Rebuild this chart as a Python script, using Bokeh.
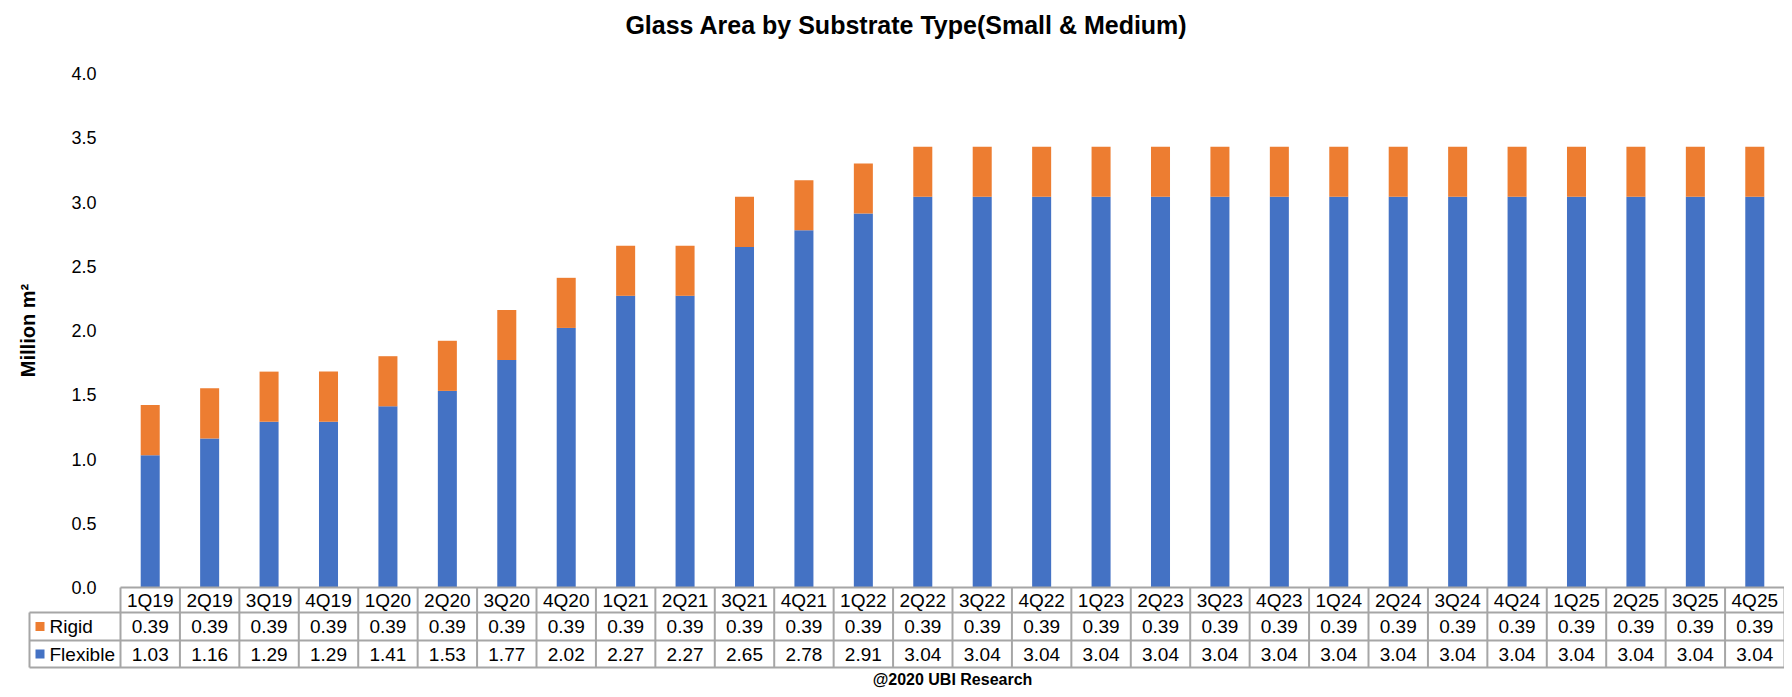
import numpy as np
from bokeh.plotting import figure
from bokeh.models import Range1d, FixedTicker, NumeralTickFormatter, ColumnDataSource
from bokeh.core.properties import value
from bokeh.embed import file_html
from bokeh.resources import INLINE

# ---------------- data ----------------
categories = ["1Q19", "2Q19", "3Q19", "4Q19", "1Q20", "2Q20", "3Q20", "4Q20",
              "1Q21", "2Q21", "3Q21", "4Q21", "1Q22", "2Q22", "3Q22", "4Q22",
              "1Q23", "2Q23", "3Q23", "4Q23", "1Q24", "2Q24", "3Q24", "4Q24",
              "1Q25", "2Q25", "3Q25", "4Q25"]
flexible = [1.03, 1.16, 1.29, 1.29, 1.41, 1.53, 1.77, 2.02,
            2.27, 2.27, 2.65, 2.78, 2.91, 3.04, 3.04, 3.04,
            3.04, 3.04, 3.04, 3.04, 3.04, 3.04, 3.04, 3.04,
            3.04, 3.04, 3.04, 3.04]
rigid = [0.39] * 28
series_names = ["Rigid", "Flexible"]
y_ticks = [0.0, 0.5, 1.0, 1.5, 2.0, 2.5, 3.0, 3.5, 4.0]
title_text = "Glass Area by Substrate Type(Small & Medium)"
y_label = "Million m²"
footer_text = "@2020 UBI Research"

# ---------------- styles ----------------
BLUE = "#4472C4"
ORANGE = "#ED7D31"
GRID = "#a6a6a6"
FONT = "Liberation Sans"
FONT_SIZE = "19px"

W, H = 1784, 689
n = len(categories)
x = np.arange(n) + 0.5

# pixel geometry (style); the frame fills the whole figure
cat_left_px = 120           # where the first category column starts
label_left_px = 29          # left edge of the table's series-name column
cell_px = (W - cat_left_px) / n
x_start = -cat_left_px / cell_px
x_lab = -(cat_left_px - label_left_px) / cell_px
y_px = 128.5                # pixels per unit on the value axis
top_px = 73                 # distance from top to the 4.0 line
y_top = 4.0 + top_px / y_px
y_bot = 4.0 - (H - top_px) / y_px
row_px = [25, 28, 27]       # table row heights


def px_x(px):
    return x_start + px / cell_px


def px_y(px):
    return y_top - px / y_px


p = figure(width=W, height=H, output_backend="svg", toolbar_location=None,
           x_range=Range1d(x_start, n), y_range=Range1d(y_bot, y_top),
           min_border=0)
p.xaxis.visible = False
p.xgrid.visible = False
p.ygrid.visible = False
p.outline_line_color = None

# value axis (labels placed to the left of the bars)
p.yaxis.ticker = FixedTicker(ticks=y_ticks)
p.yaxis.formatter = NumeralTickFormatter(format="0.0")
p.yaxis.axis_line_color = None
p.yaxis.major_tick_line_color = None
p.yaxis.minor_tick_line_color = None
p.yaxis.major_tick_out = 0
p.yaxis.major_tick_in = 0
p.yaxis.major_label_standoff = -96
p.yaxis.major_label_text_font = FONT
p.yaxis.major_label_text_font_size = "18px"
p.yaxis.major_label_text_color = "black"

# title and axis title
p.text(x=[px_x(906)], y=[px_y(24)], text=[title_text], text_align="center",
       text_baseline="middle", text_font=value(FONT), text_font_size="25px",
       text_font_style="bold", text_color="black")
p.text(x=[px_x(27)], y=[(y_ticks[0] + y_ticks[-1]) / 2], text=[y_label], angle=np.pi / 2,
       text_align="center", text_baseline="middle", text_font=value(FONT),
       text_font_size="20px", text_font_style="bold", text_color="black")

# stacked bars
src = ColumnDataSource(dict(x=x, flexible=flexible, rigid=rigid, cat=categories))
p.vbar_stack(["flexible", "rigid"], x="x", width=0.32, source=src,
             fill_color=[BLUE, ORANGE], line_color=None)

# ---------------- data table ----------------
r0 = 0.0
r1 = r0 - row_px[0] / y_px
r2 = r1 - row_px[1] / y_px
r3 = r2 - row_px[2] / y_px
p.segment(x0=[0, x_lab, x_lab, x_lab], y0=[r0, r1, r2, r3], x1=[n] * 4, y1=[r0, r1, r2, r3],
          line_color=GRID, line_width=2)
vx = list(range(n + 1))
p.segment(x0=vx, y0=[r0] * len(vx), x1=vx, y1=[r3] * len(vx), line_color=GRID, line_width=2)
p.segment(x0=[x_lab], y0=[r1], x1=[x_lab], y1=[r3], line_color=GRID, line_width=2)

txt = dict(text_align="center", text_baseline="middle", text_font=value(FONT),
           text_font_size=FONT_SIZE, text_color="black")
p.text(x=x, y=[(r0 + r1) / 2] * n, text=categories, **txt)
p.text(x=x, y=[(r1 + r2) / 2] * n, text=["%.2f" % v for v in rigid], **txt)
p.text(x=x, y=[(r2 + r3) / 2] * n, text=["%.2f" % v for v in flexible], **txt)

key_x = x_lab + 10.5 / cell_px
p.rect(x=[key_x, key_x], y=[(r1 + r2) / 2, (r2 + r3) / 2], width=9, height=9,
       width_units="screen", height_units="screen", fill_color=[ORANGE, BLUE], line_color=None)
p.text(x=[x_lab + 20 / cell_px] * 2, y=[(r1 + r2) / 2, (r2 + r3) / 2], text=series_names,
       text_align="left", text_baseline="middle", text_font=value(FONT),
       text_font_size=FONT_SIZE, text_color="black")

# footer
p.text(x=[n / 2], y=[px_y(H - 10)], text=[footer_text], text_align="center",
       text_baseline="middle", text_font=value(FONT), text_font_size="16px",
       text_font_style="bold", text_color="black")

open("out.html", "w").write(file_html(p, INLINE))
